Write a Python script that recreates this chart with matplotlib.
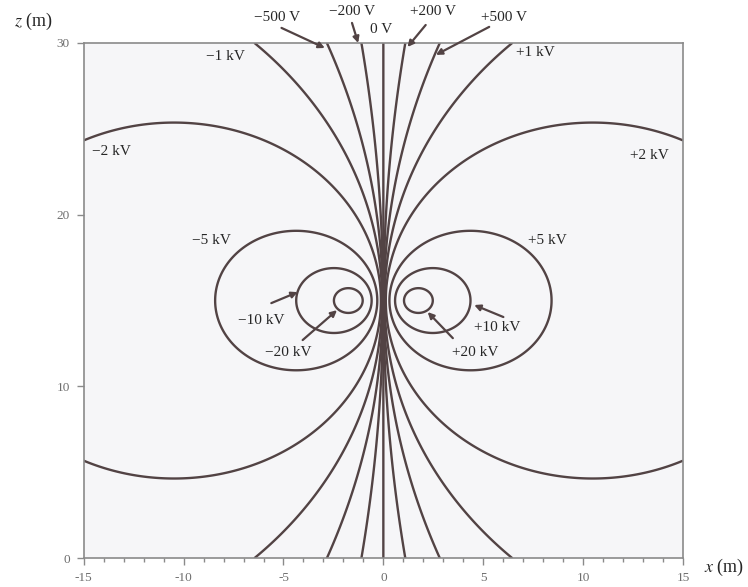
import numpy as np
import matplotlib.pyplot as plt

plt.rcParams['font.family'] = ['Liberation Serif', 'DejaVu Serif']
plt.rcParams['axes.unicode_minus'] = False
plt.rcParams['mathtext.fontset'] = 'stix'

# equipotential levels (V) and their labels
levels = [-20000, -10000, -5000, -2000, -1000, -500, -200, 0,
          200, 500, 1000, 2000, 5000, 10000, 20000]
labels = ['\u221220 kV', '\u221210 kV', '\u22125 kV', '\u22122 kV', '\u22121 kV',
          '\u2212500 V', '\u2212200 V', '0 V', '+200 V', '+500 V', '+1 kV',
          '+2 kV', '+5 kV', '+10 kV', '+20 kV']

# line charges (estimated from the loops): half spacing d (m), height z0 (m), strength A (V)
d = 1.6
z0 = 15.0
A = 13000.0

x = np.linspace(-15, 15, 1200)
z = np.linspace(0, 30, 1200)
X, Z = np.meshgrid(x, z)
r_pos = np.hypot(X - d, Z - z0) + 1e-9
r_neg = np.hypot(X + d, Z - z0) + 1e-9
V = A * np.log(r_neg / r_pos)

line_col = '#524344'
text_col = '#262626'
frame_col = '#8a8a8a'

fig = plt.figure(figsize=(7.48, 5.87), dpi=100)
ax = fig.add_axes([0.112, 0.049, 0.801, 0.878])
ax.set_facecolor('#f6f6f8')
ax.contour(X, Z, V, levels=levels, colors=line_col, linewidths=1.7,
           linestyles='solid', negative_linestyles='solid')

ax.set_xlim(-15, 15)
ax.set_ylim(0, 30)
ax.set_xticks([-15, -10, -5, 0, 5, 10, 15])
ax.set_xticks(np.arange(-15, 16, 1), minor=True)
ax.set_yticks([0, 10, 20, 30])
ax.tick_params(direction='out', length=5, width=1, colors=frame_col,
               labelcolor='#6e6e6e', labelsize=9.5, pad=5)
ax.tick_params(axis='x', which='minor', direction='out', length=3, width=1, colors=frame_col)
for s in ax.spines.values():
    s.set_color(frame_col)
    s.set_linewidth(1.2)

# label positions (data coords) and arrows (tail, head)
pos = {
    '\u2212500 V': (-5.3, 31.5), '\u2212200 V': (-1.57, 31.8), '0 V': (-0.1, 30.75),
    '+200 V': (2.47, 31.8), '+500 V': (6.06, 31.5),
    '\u22121 kV': (-7.93, 29.18), '+1 kV': (7.63, 29.41),
    '\u22122 kV': (-13.59, 23.65), '+2 kV': (13.33, 23.47),
    '\u22125 kV': (-8.59, 18.52), '+5 kV': (8.23, 18.52),
    '\u221210 kV': (-6.11, 13.86), '\u221220 kV': (-4.75, 12.0),
    '+10 kV': (5.71, 13.45), '+20 kV': (4.6, 12.0),
}
arrows = {
    '\u2212500 V': ((-5.10, 30.87), (-2.93, 29.70)),
    '\u2212200 V': ((-1.57, 31.16), (-1.26, 29.99)),
    '+200 V': ((2.12, 31.04), (1.21, 29.76)),
    '+500 V': ((5.30, 30.93), (2.63, 29.30)),
    '\u221210 kV': ((-5.61, 14.85), (-4.29, 15.49)),
    '\u221220 kV': ((-4.04, 12.70), (-2.32, 14.44)),
    '+10 kV': ((6.01, 14.04), (4.55, 14.74)),
    '+20 kV': ((3.48, 12.81), (2.22, 14.33)),
}

for lab in labels:
    tx, tz = pos[lab]
    ax.text(tx, tz, lab, ha='center', va='center', fontsize=11,
            color=text_col, clip_on=False)
    if lab in arrows:
        tail, head = arrows[lab]
        ax.annotate('', xy=head, xytext=tail, annotation_clip=False,
                    arrowprops=dict(arrowstyle='-|>', color=line_col, lw=1.6,
                                    mutation_scale=9, shrinkA=0, shrinkB=0))

fig.text(0.044, 0.963, r'$z$ (m)', fontsize=13, color=text_col, ha='center', va='center')
fig.text(0.968, 0.034, r'$x$ (m)', fontsize=13, color=text_col, ha='center', va='center')

fig.savefig('out.png', dpi=100, facecolor='white')
